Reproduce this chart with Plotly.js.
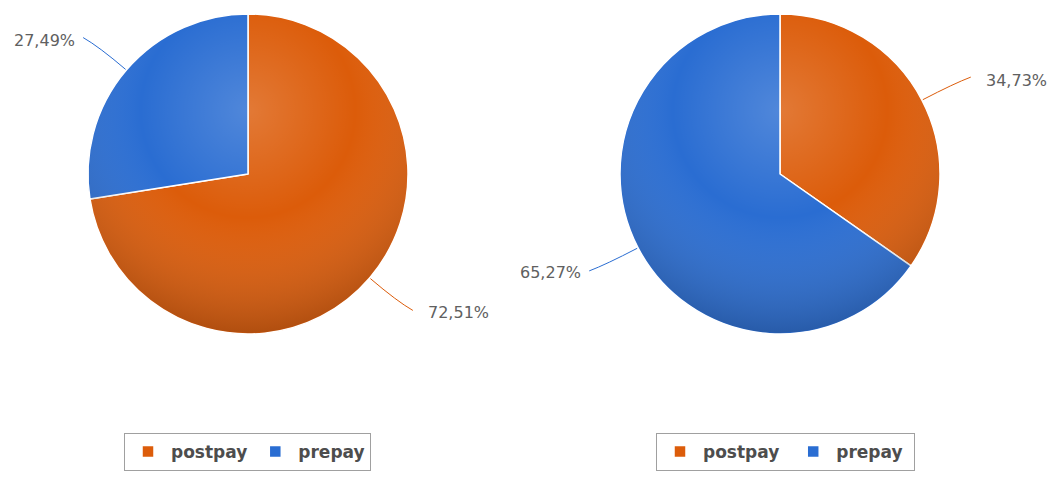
<!DOCTYPE html>
<html>
<head>
<meta charset="utf-8">
<script src="https://cdn.plot.ly/plotly-3.0.1.min.js"></script>
<style>html,body{margin:0;padding:0;background:#fff;}#chart{width:1052px;height:477px;}</style>
</head>
<body>
<div id="chart"></div>
<script>
// ---- data ----
const categories = ['postpay', 'prepay'];
const leftValues = [72.51, 27.49];
const rightValues = [34.73, 65.27];
const sliceColors = ['#dc5c0a', '#2a6dd2'];

// ---- layout constants ----
const W = 1052, H = 477;
const pieR = 160;
const pies = [
  {values: leftValues, cx: 248, cy: 174, legend: 'legend', legendX: 124, labelSuffix: ''},
  {values: rightValues, cx: 780, cy: 174, legend: 'legend2', legendX: 656, labelSuffix: ' '}
];

const px = x => x / W;
const py = y => 1 - y / H;
const fmt = v => v.toFixed(2).replace('.', ',') + '%';

const traces = [];
const shapes = [];
const annotations = [];
const images = [];

const gradSvg = '<svg xmlns="http://www.w3.org/2000/svg" width="320" height="320">' +
  '<defs><radialGradient id="g" cx="0.5" cy="0.3" r="0.75">' +
  '<stop offset="0" stop-color="#ffffff" stop-opacity="0.18"/>' +
  '<stop offset="0.45" stop-color="#ffffff" stop-opacity="0"/>' +
  '<stop offset="1" stop-color="#000000" stop-opacity="0.26"/>' +
  '</radialGradient></defs><circle cx="160" cy="160" r="159" fill="url(#g)"/></svg>';
const gradUri = 'data:image/svg+xml;base64,' + btoa(gradSvg);

pies.forEach((p) => {
  traces.push({
    type: 'pie',
    labels: categories.map(c => c + p.labelSuffix),
    values: p.values,
    sort: false,
    direction: 'clockwise',
    rotation: 0,
    textinfo: 'none',
    hoverinfo: 'none',
    marker: {colors: sliceColors, line: {color: '#ffffff', width: 1.5}},
    domain: {x: [px(p.cx - pieR), px(p.cx + pieR)], y: [py(p.cy + pieR), py(p.cy - pieR)]},
    legend: p.legend,
    showlegend: true
  });

  images.push({
    source: gradUri, xref: 'paper', yref: 'paper',
    x: px(p.cx - pieR), y: py(p.cy - pieR), sizex: 2 * pieR / W, sizey: 2 * pieR / H,
    xanchor: 'left', yanchor: 'top', sizing: 'stretch', layer: 'above'
  });

  const total = p.values.reduce((a, b) => a + b, 0);
  let cum = 0;
  p.values.forEach((v, i) => {
    const mid = (cum + v / 2) / total * 2 * Math.PI;
    cum += v;
    const s = Math.sin(mid), c = Math.cos(mid);
    const x0 = p.cx + (pieR + 1) * s, y0 = p.cy - (pieR + 1) * c;
    const xc = p.cx + (pieR + 36) * s, yc = p.cy - (pieR + 36) * c;
    const yEnd = p.cy - 210 * c;
    const dy = yEnd - p.cy;
    const xEnd = p.cx + Math.sign(s) * Math.sqrt(Math.max(0, 214 * 214 - dy * dy));
    shapes.push({
      type: 'path', xref: 'paper', yref: 'paper',
      path: `M ${px(x0)},${py(y0)} Q ${px(xc)},${py(yc)} ${px(xEnd)},${py(yEnd)}`,
      line: {color: sliceColors[i], width: 1}
    });
    const right = s > 0;
    annotations.push({
      xref: 'paper', yref: 'paper',
      x: px(xEnd + (right ? 13 : -6)), y: py(yEnd + (c > 0 ? 3 : 2)),
      xanchor: right ? 'left' : 'right', yanchor: 'middle',
      text: fmt(v), showarrow: false,
      font: {family: 'DejaVu Sans, Verdana, sans-serif', size: 16, color: '#606060'}
    });
  });
});

const legendBase = {
  orientation: 'h', xanchor: 'left', yanchor: 'top', y: py(433),
  bgcolor: '#ffffff', bordercolor: '#a0a0a0', borderwidth: 1,
  itemwidth: 36,
  font: {family: 'DejaVu Sans, Verdana, sans-serif', size: 17, color: '#4d4d4d', weight: 'bold'},
  itemclick: false, itemdoubleclick: false
};

const layout = {
  width: W, height: H,
  margin: {l: 0, r: 0, t: 0, b: 0},
  paper_bgcolor: '#ffffff', plot_bgcolor: '#ffffff',
  showlegend: true,
  legend: Object.assign({}, legendBase, {x: px(pies[0].legendX)}),
  legend2: Object.assign({}, legendBase, {x: px(pies[1].legendX)}),
  shapes: shapes, annotations: annotations, images: images
};

Plotly.newPlot('chart', traces, layout, {staticPlot: true, displayModeBar: false});
</script>
</body>
</html>
